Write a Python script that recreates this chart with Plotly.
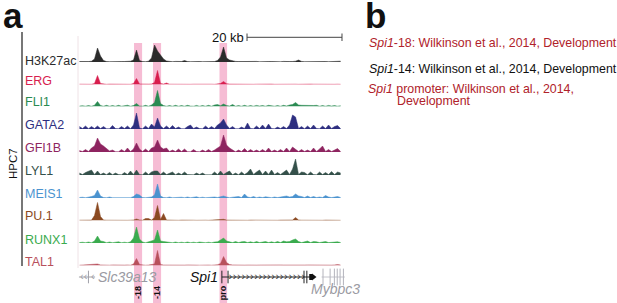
import plotly.graph_objects as go

W, H = 617, 303

# ---------------- data ----------------
track_names = ["H3K27ac", "ERG", "FLI1", "GATA2", "GFI1B", "LYL1", "MEIS1", "PU.1", "RUNX1", "TAL1"]
track_colors = ["#2b2b2b", "#d81e4e", "#2a8a52", "#2e2f80", "#8e2460", "#34504a",
                "#4b93cf", "#8b4a22", "#3aab4e", "#b8505c"]

h3k27ac = [0.5, 0.3, 0.6, 0.4, 0.8, 3, 14, 6, 1.5, 0.4, 0.3,
           0.5, 0.2, 0.6, 0.4, 0.5, 0.3, 0.8, 2, 12, 1.5, 0.4,
           0.3, 0.8, 4, 17, 11, 7, 3, 1, 0.5, 0.3, 0.6,
           0.2, 0.5, 1.5, 0.4, 0.3, 0.6, 0.2, 0.5, 0.3, 0.4, 0.6,
           0.3, 0.5, 1.5, 5, 15, 4, 2, 1, 0.6, 0.4, 0.5,
           0.3, 0.5, 0.3, 0.4, 0.6, 0.2, 0.5, 0.3, 0.4, 0.5, 0.3,
           0.5, 0.2, 0.6, 0.3, 0.4, 0.5, 0.8, 2, 0.6, 0.3, 0.4,
           0.5, 0.3, 0.4, 0.6, 0.3, 0.5, 0.3, 0.4, 0.2, 0.5, 0.8]
erg = [0.3, 0.2, 0.4, 0.3, 0.2, 1, 9, 1, 0.3, 0.2, 0.4,
       0.3, 0.2, 0.3, 0.4, 0.2, 0.3, 0.2, 1, 6, 0.5, 0.3,
       0.2, 0.4, 0.5, 2, 14, 1, 0.4, 1.5, 0.3, 0.2, 0.4,
       0.3, 0.2, 0.4, 0.3, 0.2, 0.3, 0.4, 0.2, 0.3, 0.2, 0.4,
       0.3, 0.2, 0.4, 1, 3, 0.8, 0.4, 0.3, 0.2, 0.4, 0.3,
       0.2, 0.3, 0.4, 0.2, 0.3, 0.4, 0.2, 0.3, 1, 0.4, 0.2,
       0.3, 0.4, 0.2, 0.3, 0.2, 0.4, 0.3, 0.2, 0.4, 0.3, 0.2,
       0.4, 0.3, 0.2, 0.3, 0.4, 0.2, 0.3, 0.4, 0.2, 0.3, 0.2]
fli1 = [0.4, 0.8, 0.3, 1, 0.3, 1.2, 5, 1, 0.3, 1.2, 0.3,
        1, 0.3, 1.2, 0.3, 0.8, 1.3, 0.3, 1, 3, 0.5, 0.3,
        1.2, 0.3, 1.5, 4, 16, 3, 1, 0.3, 1, 0.3, 1.2,
        0.3, 1, 0.3, 1.2, 0.4, 0.3, 1.1, 0.3, 1, 0.3, 1.2,
        0.3, 1.5, 2, 0.8, 2.5, 1, 0.4, 2, 0.3, 1, 0.3,
        1.2, 0.3, 1, 0.3, 1.1, 0.4, 1, 0.3, 1.2, 0.5, 0.3,
        1, 0.3, 1.2, 0.5, 1.5, 2, 4, 1.5, 1.2, 1, 1.2,
        0.5, 1, 1.2, 0.3, 1, 0.3, 1.1, 0.4, 1, 0.3, 0.8]
gata2 = [2.5, 0.4, 3, 0.3, 2.5, 0.5, 3, 0.4, 2.5, 0.3, 0.2,
         3.5, 0.4, 0.2, 2.5, 0.5, 3, 0.3, 4, 16, 1, 0.2,
         3, 0.5, 5, 2, 11, 3, 0.5, 3, 0.4, 3.5, 0.5,
         2, 0.3, 0.2, 2.5, 4, 0.5, 2, 0.4, 0.2, 3, 0.4,
         2.5, 0.5, 4, 6, 10, 4, 0.5, 2.5, 0.2, 0.2, 2,
         0.4, 6, 0.5, 0.2, 3, 0.4, 4, 0.5, 5, 0.4, 0.2,
         2, 0.5, 2.5, 0.4, 4, 14, 12, 0.5, 2.5, 0.2, 3,
         0.4, 4, 0.5, 0.2, 3, 0.4, 4, 0.5, 2.5, 3.5, 0.4]
gfi1b = [1.5, 0.4, 2.5, 0.5, 4, 6, 14, 8, 6, 3, 1,
         2, 0.3, 0.2, 2.5, 0.5, 4, 0.4, 3, 9, 3, 0.4,
         3, 0.5, 4, 5, 12, 5, 3, 4, 0.5, 2, 0.4,
         3, 0.4, 3, 0.3, 0.2, 2.5, 0.4, 0.2, 2, 0.5, 2.5,
         0.4, 2, 4, 6, 17, 7, 4, 2, 0.2, 2, 0.5,
         3.5, 0.4, 2.5, 0.5, 2, 0.4, 2.5, 0.5, 4, 0.4, 2,
         0.5, 2.5, 0.4, 4, 0.5, 5, 3, 0.4, 2.5, 0.5, 2,
         0.4, 4, 0.5, 3, 6, 0.5, 2.5, 0.4, 2, 3.5, 0.5]
lyl1 = [2, 0.4, 2.5, 4, 5, 0.5, 4, 0.4, 2, 0.3, 2.5,
        0.3, 2, 0.4, 0.2, 2.5, 0.4, 4, 0.5, 5, 0.4, 0.2,
        3, 0.5, 3, 4, 4, 0.5, 3, 0.4, 2, 3, 0.3,
        2, 0.4, 3, 0.5, 0.2, 0.2, 2, 0.4, 2, 0.2, 0.2,
        0.2, 3, 0.4, 4, 0.5, 2.5, 4, 0.2, 2, 0.2, 3,
        0.4, 2.5, 6, 0.5, 3, 5, 0.4, 4, 0.5, 5, 0.4,
        2.5, 0.5, 3, 5, 0.4, 6, 16, 0.5, 3, 2.5, 0.2,
        3, 0.4, 0.2, 3, 0.5, 2.5, 0.4, 3.5, 0.4, 3, 2]
meis1 = [0.5, 0.8, 0.3, 0.6, 1.5, 2.5, 8, 2, 0.5, 0.3, 1,
         0.3, 0.3, 0.8, 0.3, 0.6, 1, 0.3, 1.5, 4, 3, 0.4,
         0.3, 0.8, 1, 3, 14, 2, 0.5, 0.3, 1, 0.3, 0.6,
         0.3, 0.8, 0.3, 1, 0.3, 0.6, 1.2, 0.3, 0.8, 0.3, 0.6,
         0.3, 1, 0.5, 1.5, 2, 1, 0.3, 0.8, 1, 1.5, 0.4,
         4, 1, 0.4, 1.5, 0.3, 1, 0.4, 1.2, 0.5, 0.3, 1,
         0.4, 1, 1.5, 2, 1, 1.5, 4, 2, 1.5, 0.5, 2,
         0.5, 1.5, 0.4, 1, 0.5, 2.5, 1, 0.4, 1, 1.5, 0.5]
pu1 = [0.3, 0.2, 0.3, 0.2, 0.4, 5, 18, 4, 0.5, 0.3, 0.2,
       0.3, 0.2, 0.4, 0.2, 0.3, 0.2, 0.3, 0.5, 1.5, 0.5, 0.3,
       2, 2, 0.5, 3, 15, 1, 7, 0.5, 0.3, 0.2, 0.3,
       0.2, 0.4, 0.2, 0.3, 0.2, 0.3, 0.2, 0.4, 0.2, 0.3, 0.2,
       0.3, 0.2, 0.5, 0.8, 1.2, 0.4, 0.3, 0.2, 0.3, 0.5, 0.2,
       0.3, 0.2, 0.4, 0.3, 0.2, 0.5, 0.3, 0.2, 0.4, 0.2, 0.3,
       0.2, 0.4, 0.3, 0.2, 0.3, 0.5, 3, 0.5, 0.3, 0.2, 0.4,
       0.3, 0.2, 0.5, 0.3, 0.2, 0.4, 0.3, 0.2, 0.3, 0.4, 0.2]
runx1 = [0.4, 0.8, 0.3, 1, 0.3, 2, 7, 2, 1.5, 0.3, 1,
         0.3, 0.8, 1.2, 0.3, 0.8, 0.3, 1.2, 5, 16, 4, 1,
         0.3, 1, 2, 3, 13, 2, 1.5, 1, 0.4, 0.3, 1,
         0.3, 0.8, 0.3, 1, 0.3, 0.8, 0.3, 1, 0.4, 0.3, 0.8,
         0.3, 1, 1.2, 3, 5, 2, 1.2, 0.4, 1.5, 0.4, 1.2,
         1.5, 0.4, 1.2, 0.4, 1.5, 0.4, 1.2, 1.5, 0.4, 1.2, 0.4,
         1.5, 0.4, 2, 1.2, 1.5, 3, 4, 1.5, 0.4, 1.2, 2,
         0.4, 1.5, 1.2, 0.4, 1, 1.5, 0.4, 0.8, 1, 1.2, 0.5]
tal1 = [0.3, 0.5, 0.4, 0.6, 0.5, 0.8, 1.5, 0.6, 0.4, 0.5, 0.3,
        0.6, 0.4, 0.3, 0.5, 0.4, 0.6, 0.3, 1.5, 7, 1, 0.4,
        0.3, 0.5, 0.8, 1.5, 15, 1, 0.5, 0.4, 0.3, 0.6, 0.4,
        0.5, 0.3, 0.4, 0.6, 0.3, 0.5, 0.4, 0.3, 0.6, 0.4, 0.5,
        0.3, 0.5, 0.8, 2, 9, 3, 1, 0.6, 0.4, 0.5, 0.6,
        0.4, 0.5, 0.3, 0.6, 0.4, 0.5, 0.6, 0.4, 0.5, 0.3, 0.6,
        0.4, 0.6, 0.5, 0.4, 0.6, 0.8, 0.5, 0.6, 0.4, 0.5, 0.6,
        0.5, 0.4, 0.6, 0.5, 0.8, 0.6, 0.5, 0.4, 0.6, 1, 0.5]
track_values = [h3k27ac, erg, fli1, gata2, gfi1b, lyl1, meis1, pu1, runx1, tal1]

BIN_KB = 0.632
bin_kb = [(i + 0.5) * BIN_KB for i in range(len(h3k27ac))]

region_labels = ["-18", "-14", "pro"]
region_start_kb = [11.8, 15.8, 29.8]
region_end_kb = [13.5, 17.5, 31.4]

scale_start_kb = 35.6
scale_len_kb = 20
scale_label = "20 kb"

slc_span_kb = [0.2, 3.6]
slc_exons_kb = [2.2]
spi1_span_kb = [30.3, 49.3]
spi1_exons_kb = [30.3, 31.6, 47.6, 48.2]
mybpc3_span_kb = [51.3, 56.2]
mybpc3_exons_kb = [51.6, 53.1, 54.0, 54.6, 55.2, 55.9]

ref_lines = [
    ("<i>Spi1</i>-18: Wilkinson et al., 2014, Development", "#b0222a", 367, 43),
    ("<i>Spi1</i>-14: Wilkinson et al., 2014, Development", "#111111", 367, 69),
    ("<i>Spi1</i> promoter: Wilkinson et al., 2014,", "#b0222a", 366, 89),
    ("Development", "#b0222a", 395, 101),
]

# ---------------- layout helpers (positions only) ----------------
PX_PER_KB = 4.748
X0 = 78
X_RANGE = [0, 58.5]
baseline_px = [62, 84.5, 106.5, 129, 152, 175, 198, 220.5, 243, 265.5]
label_px = [61, 81, 101.5, 125, 148, 170.5, 193.5, 216, 239.5, 262]
TRACK_H = 21
FONT = "Arial, Liberation Sans, sans-serif"


def xp(px):
    return px / W


def yp(py):
    return 1 - py / H


fig = go.Figure()
layout = dict(
    width=W, height=H, margin=dict(l=0, r=0, t=0, b=0),
    paper_bgcolor="white", plot_bgcolor="rgba(0,0,0,0)", showlegend=False,
    font=dict(family=FONT, color="#222"),
    xaxis=dict(domain=[X0 / W, (X0 + X_RANGE[1] * PX_PER_KB) / W], range=X_RANGE,
               visible=False, fixedrange=True),
)

for i, (name, col, vals) in enumerate(zip(track_names, track_colors, track_values)):
    key = "yaxis" if i == 0 else f"yaxis{i + 1}"
    ref = "y" if i == 0 else f"y{i + 1}"
    b = baseline_px[i]
    layout[key] = dict(domain=[yp(b), yp(b - TRACK_H)], range=[0, TRACK_H],
                       visible=False, anchor="x", fixedrange=True)
    fig.add_trace(go.Scatter(x=bin_kb, y=vals, xaxis="x", yaxis=ref, mode="lines",
                             line=dict(color=col, width=0.5), fill="tozeroy",
                             fillcolor=col, hoverinfo="skip"))

# gene row axis
GENE_Y = 277
layout["yaxis11"] = dict(domain=[yp(GENE_Y + 9), yp(GENE_Y - 9)], range=[-1, 1],
                         visible=False, anchor="x", fixedrange=True)
gray = "#a0a0a8"
# Slc39a13 (minus strand)
fig.add_trace(go.Scatter(x=slc_span_kb, y=[0, 0], xaxis="x", yaxis="y11", mode="lines",
                         line=dict(color=gray, width=1), hoverinfo="skip"))
fig.add_trace(go.Scatter(x=[slc_span_kb[0] + 0.6, slc_span_kb[0] + 1.4, slc_span_kb[0] + 2.9],
                         y=[0, 0, 0], xaxis="x", yaxis="y11", mode="text", text=["‹", "‹", "‹"],
                         textfont=dict(size=11, color=gray), hoverinfo="skip"))
fig.add_trace(go.Scatter(x=slc_exons_kb, y=[0] * len(slc_exons_kb), xaxis="x", yaxis="y11",
                         mode="markers", marker=dict(symbol="line-ns", size=9,
                                                     line=dict(color=gray, width=1)),
                         hoverinfo="skip"))
# Spi1 (plus strand)
fig.add_trace(go.Scatter(x=spi1_span_kb, y=[0, 0], xaxis="x", yaxis="y11", mode="lines",
                         line=dict(color="#222", width=1), hoverinfo="skip"))
chev = [spi1_exons_kb[1] + 0.5 + 0.9 * k for k in range(18)]
fig.add_trace(go.Scatter(x=chev, y=[0] * len(chev), xaxis="x", yaxis="y11", mode="text",
                         text=["›"] * len(chev), textfont=dict(size=11, color="#333"),
                         hoverinfo="skip"))
fig.add_trace(go.Scatter(x=spi1_exons_kb, y=[0] * len(spi1_exons_kb), xaxis="x", yaxis="y11",
                         mode="markers", marker=dict(symbol="line-ns", size=9,
                                                     line=dict(color="#222", width=1)),
                         hoverinfo="skip"))
fig.add_trace(go.Scatter(x=[spi1_span_kb[1] - 0.6, spi1_span_kb[1]], y=[0, 0], xaxis="x",
                         yaxis="y11", mode="lines", line=dict(color="#111", width=6),
                         hoverinfo="skip"))
fig.add_trace(go.Scatter(x=[spi1_span_kb[1] + 0.3], y=[0], xaxis="x", yaxis="y11",
                         mode="markers", marker=dict(symbol="triangle-right", size=6, color="#111"),
                         hoverinfo="skip"))
# Mybpc3
fig.add_trace(go.Scatter(x=mybpc3_span_kb, y=[0, 0], xaxis="x", yaxis="y11", mode="lines",
                         line=dict(color="#c4c4cc", width=1), hoverinfo="skip"))
fig.add_trace(go.Scatter(x=mybpc3_exons_kb, y=[0] * len(mybpc3_exons_kb), xaxis="x", yaxis="y11",
                         mode="markers", marker=dict(symbol="line-ns", size=12,
                                                     line=dict(color="#b4b4bc", width=1)),
                         hoverinfo="skip"))

shapes = []
# highlighted regions
for s, e in zip(region_start_kb, region_end_kb):
    shapes.append(dict(type="rect", xref="x", yref="paper", x0=s, x1=e, y0=0, y1=yp(43),
                       fillcolor="#f6bcd4", line=dict(width=0), layer="below"))
# faint left border of tracks
shapes.append(dict(type="line", xref="paper", yref="paper", x0=xp(78), x1=xp(78),
                   y0=yp(268), y1=yp(36), line=dict(color="#efe2e6", width=1), layer="below"))
# HPC7 bracket line
shapes.append(dict(type="line", xref="paper", yref="paper", x0=xp(22), x1=xp(22),
                   y0=yp(266), y1=yp(32), line=dict(color="#555", width=1.6)))
# scale bar
sb_y = yp(37.3)
shapes.append(dict(type="line", xref="x", yref="paper", x0=scale_start_kb,
                   x1=scale_start_kb + scale_len_kb, y0=sb_y, y1=sb_y,
                   line=dict(color="#444", width=1)))
for xx in (scale_start_kb, scale_start_kb + scale_len_kb):
    shapes.append(dict(type="line", xref="x", yref="paper", x0=xx, x1=xx,
                       y0=yp(33.5), y1=yp(41), line=dict(color="#444", width=1)))

ann = []
ann.append(dict(text="<b>a</b>", x=xp(1), y=yp(15), xref="paper", yref="paper",
                xanchor="left", yanchor="middle", showarrow=False,
                font=dict(size=35, color="#111")))
ann.append(dict(text="<b>b</b>", x=xp(363), y=yp(15), xref="paper", yref="paper",
                xanchor="left", yanchor="middle", showarrow=False,
                font=dict(size=35, color="#111")))
ann.append(dict(text="HPC7", x=xp(13), y=yp(164), xref="paper", yref="paper",
                xanchor="center", yanchor="middle", textangle=-90, showarrow=False,
                font=dict(size=11.5, color="#111")))
for name, col, ly in zip(track_names, track_colors, label_px):
    ann.append(dict(text=name, x=xp(23), y=yp(ly), xref="paper", yref="paper",
                    xanchor="left", yanchor="middle", showarrow=False,
                    font=dict(size=12.5, color=col)))
ann.append(dict(text=scale_label, x=scale_start_kb, y=yp(37.5), xref="x", yref="paper",
                xanchor="right", yanchor="middle", showarrow=False, xshift=-1,
                font=dict(size=13, color="#111")))
for lab, s, e in zip(region_labels, region_start_kb, region_end_kb):
    ann.append(dict(text=f"<b>{lab}</b>", x=(s + e) / 2, y=yp(293), xref="x", yref="paper",
                    xanchor="center", yanchor="middle", textangle=-90, showarrow=False,
                    font=dict(size=9, color="#111")))
ann.append(dict(text="<i>Slc39a13</i>", x=slc_span_kb[1] + 0.2, y=yp(GENE_Y), xref="x",
                yref="paper", xanchor="left", yanchor="middle", showarrow=False,
                font=dict(size=14, color="#9a9aa2")))
ann.append(dict(text="<i>Spi1</i>", x=spi1_span_kb[0] - 0.4, y=yp(GENE_Y), xref="x",
                yref="paper", xanchor="right", yanchor="middle", showarrow=False,
                font=dict(size=14, color="#111")))
ann.append(dict(text="<i>Mybpc3</i>", x=mybpc3_span_kb[0] - 2.6, y=yp(289), xref="x",
                yref="paper", xanchor="left", yanchor="middle", showarrow=False,
                font=dict(size=14, color="#9a9aa2")))
for txt, col, x, y in ref_lines:
    ann.append(dict(text=txt, x=xp(x), y=yp(y), xref="paper", yref="paper",
                    xanchor="left", yanchor="middle", showarrow=False,
                    font=dict(size=12.4, color=col)))

layout["shapes"] = shapes
layout["annotations"] = ann
fig.update_layout(**layout)
fig.write_html("out.html", config={"displayModeBar": False},
               post_script="document.body.style.margin='0';document.body.style.overflow='hidden';")
